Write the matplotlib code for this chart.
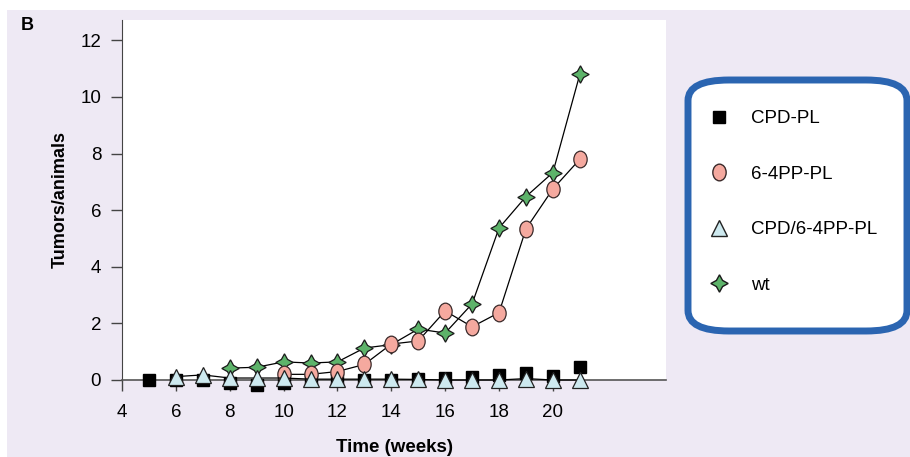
import matplotlib
matplotlib.use("Agg")
import matplotlib.pyplot as plt
from matplotlib.lines import Line2D
from matplotlib.patches import Rectangle, FancyBboxPatch
from matplotlib.path import Path
from matplotlib.transforms import Affine2D

plt.rcParams['font.family'] = ['Liberation Sans', 'DejaVu Sans']

# data
cpd_weeks = [5, 6, 7, 8, 9, 10, 11, 12, 13, 14, 15, 16, 17, 18, 19, 20, 21]
cpd_vals = [0, 0, 0, -0.1, -0.18, -0.1, 0, 0, 0, 0, 0.05, 0.06, 0.1, 0.17, 0.24, 0.14, 0.46]

pp_weeks = [10, 11, 12, 13, 14, 15, 16, 17, 18, 19, 20, 21]
pp_vals = [0.2, 0.2, 0.3, 0.55, 1.27, 1.38, 2.44, 1.88, 2.38, 5.34, 6.75, 7.8]

both_weeks = [6, 7, 8, 9, 10, 11, 12, 13, 14, 15, 16, 17, 18, 19, 20, 21]
both_vals = [0.12, 0.18, 0.07, 0.07, 0.07, 0.03, 0.03, 0.03, 0.03, 0.02, 0, 0, 0, 0.05, 0, 0]

wt_weeks = [8, 9, 10, 11, 12, 13, 14, 15, 16, 17, 18, 19, 20, 21]
wt_vals = [0.42, 0.45, 0.64, 0.6, 0.64, 1.13, 1.25, 1.8, 1.66, 2.69, 5.37, 6.48, 7.33, 10.8]

labels = ['CPD-PL', '6-4PP-PL', 'CPD/6-4PP-PL', 'wt']

W, H = 910, 457
fig = plt.figure(figsize=(W / 100, H / 100), dpi=100, facecolor='white')
bg = '#EEE9F4'
fig.patches.append(Rectangle((7 / W, 0), 1 - 7 / W, (H - 10) / H,
                             transform=fig.transFigure, facecolor=bg,
                             edgecolor='none', zorder=-10))

ax = fig.add_axes([122 / W, (H - 380) / H, 544 / W, 360 / H])
ax.set_facecolor('white')

ellipse = Path.unit_circle().transformed(Affine2D().scale(0.8, 1.0))

pp_style = dict(marker=ellipse, ms=12, mfc='#F5A99F', mec='#3a2a2a', mew=0.9, color='black', lw=0.9)
tr_style = dict(marker='^', ms=12, mfc='#CDE9EF', mec='#222222', mew=0.9, color='black', lw=0.9)
wt_style = dict(marker=(4, 1, 0), ms=12.5, mfc='#5DB36A', mec='#1a1a1a', mew=0.9, color='black', lw=0.9)

ax.plot(cpd_weeks, cpd_vals, linestyle='none', marker='s', ms=8.5, mfc='black',
        mec='black', zorder=3, clip_on=False)
ax.plot(wt_weeks, wt_vals, zorder=4, clip_on=False, **wt_style)
ax.plot(pp_weeks, pp_vals, zorder=5, clip_on=False, **pp_style)
ax.plot(both_weeks, both_vals, zorder=6, clip_on=False, **tr_style)

ax.set_xlim(4, 24.2)
ax.set_ylim(0, 12.72)
ax.set_xticks(range(4, 21, 2))
ax.set_yticks(range(0, 13, 2))

for s in ['top', 'right']:
    ax.spines[s].set_visible(False)
ax.spines['left'].set_color('#444444')
ax.spines['bottom'].set_color('#555555')
ax.spines['bottom'].set_linewidth(1.2)
ax.tick_params(axis='both', direction='out', length=8, width=1, color='#444444',
               labelsize=13.5, pad=9)
ax.tick_params(axis='y', pad=7)

ax.set_ylabel('Tumors/animals', fontsize=13, fontweight='bold', labelpad=8)
ax.set_xlabel('Time (weeks)', fontsize=13.5, fontweight='bold', labelpad=13)
fig.text(21 / W, 1 - 25 / H, 'B', fontsize=13, fontweight='bold', va='center', ha='left')

# rounded legend frame
box = FancyBboxPatch((688 / W, (H - 331) / H), 219 / W, 251 / H,
                     boxstyle='round,pad=0,rounding_size=0.045',
                     transform=fig.transFigure, facecolor='white',
                     edgecolor='#2B65B1', linewidth=5, zorder=1)
fig.patches.append(box)

handles = [
    Line2D([], [], linestyle='none', marker='s', ms=8.5, mfc='black', mec='black'),
    Line2D([], [], linestyle='none', marker=ellipse, ms=12, mfc='#F5A99F', mec='#3a2a2a'),
    Line2D([], [], linestyle='none', marker='^', ms=12, mfc='#CDE9EF', mec='#222222'),
    Line2D([], [], linestyle='none', marker=(4, 1, 0), ms=12.5, mfc='#5DB36A', mec='#1a1a1a'),
]
fig.legend(handles, labels, loc='upper left', bbox_to_anchor=(708 / W, 1 - 110 / H),
           frameon=False, fontsize=13.5, labelspacing=2.05, handletextpad=1.1,
           handlelength=1.2, borderaxespad=0, borderpad=0)

fig.savefig('out.png', dpi=100, facecolor=fig.get_facecolor())
